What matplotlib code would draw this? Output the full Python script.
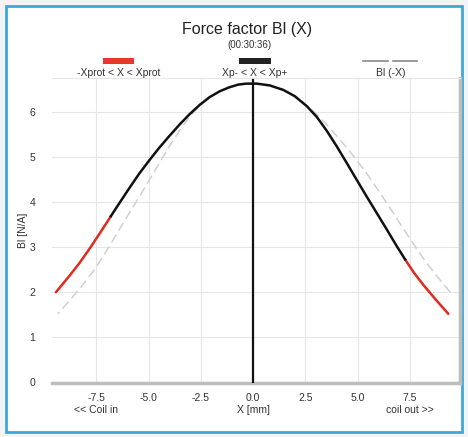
import numpy as np
import matplotlib
matplotlib.use('Agg')
import matplotlib.pyplot as plt
from matplotlib.patches import Rectangle
from matplotlib.lines import Line2D

plt.rcParams['font.family'] = ['Liberation Sans', 'DejaVu Sans']

# Bl(X), x in mm, Bl in N/A
x_mm = [-9.43, -8.79, -8.3, -7.83, -7.3, -6.80, -6.35, -5.92, -5.45, -4.96, -4.5, -4.0,
        -3.5, -3.04, -2.55, -2.08, -1.6, -1.13, -0.7, -0.33, 0.18, 0.8, 1.45, 2.0,
        2.57, 3.05, 3.53, 4.0, 4.48, 4.95, 5.44, 5.9, 6.4, 6.85, 7.27, 7.7, 8.15,
        8.75, 9.34]
bl = [1.99, 2.35, 2.64, 2.95, 3.32, 3.68, 4.00, 4.30, 4.62, 4.92, 5.19, 5.46,
      5.72, 5.94, 6.15, 6.32, 6.45, 6.54, 6.60, 6.62, 6.62, 6.58, 6.48, 6.34,
      6.12, 5.88, 5.57, 5.23, 4.86, 4.49, 4.11, 3.76, 3.38, 3.03, 2.72, 2.42, 2.15,
      1.82, 1.51]
i_xp_minus, i_xp_plus = 5, 34   # indices of Xp- and Xp+
xticks = [-7.5, -5.0, -2.5, 0.0, 2.5, 5.0, 7.5]
xticklabels = ['-7.5\n<< Coil in', '-5.0', '-2.5', '0.0\nX [mm]', '2.5', '5.0', '7.5\ncoil out >>']
yticks = [0, 1, 2, 3, 4, 5, 6]

x_mm = np.array(x_mm)
bl = np.array(bl)

fig = plt.figure(figsize=(4.68, 4.37), dpi=100)
fig.patch.set_facecolor('#f2f4f5')
fig.add_artist(Rectangle((0.012, 0.012), 0.976, 0.975, transform=fig.transFigure,
                         facecolor='white', edgecolor='#3ea8d8', lw=2, zorder=-1))

ax = fig.add_axes([0.111, 0.123, 0.872, 0.699])
ax.set_facecolor('white')

# mirrored curve Bl(-X)
ax.plot(-x_mm, bl, color='#d0d0d0', lw=1.1, ls=(0, (6, 3)), zorder=2)
# red outside Xp-/Xp+, black inside
ax.plot(x_mm[:i_xp_minus + 1], bl[:i_xp_minus + 1], color='#e02a1e', lw=1.8, zorder=3,
        solid_capstyle='round')
ax.plot(x_mm[i_xp_plus:], bl[i_xp_plus:], color='#e02a1e', lw=1.8, zorder=3,
        solid_capstyle='round')
ax.plot(x_mm[i_xp_minus:i_xp_plus + 1], bl[i_xp_minus:i_xp_plus + 1], color='#111111',
        lw=1.8, zorder=3)
# position marker at X=0
ax.plot([0, 0], [0, 6.7], color='#111111', lw=1.6, zorder=4)

ax.set_xlim(-9.62, 9.90)
ax.set_ylim(-0.03, 6.75)
ax.set_xticks(xticks)
ax.set_xticklabels(xticklabels, fontsize=7.5, color='#333333', linespacing=1.25)
ax.set_yticks(yticks)
ax.set_yticklabels([str(v) for v in yticks], fontsize=7.5, color='#333333')
ax.tick_params(axis='both', length=0)
ax.tick_params(axis='y', pad=12)
ax.tick_params(axis='x', pad=7)
ax.grid(True, color='#e6e6e6', lw=0.8)
ax.set_axisbelow(True)
ax.spines['left'].set_visible(False)
ax.spines['top'].set_color('#e6e6e6')
ax.spines['bottom'].set_color('#bdbdbd')
ax.spines['bottom'].set_linewidth(2.5)
ax.spines['right'].set_color('#bdbdbd')
ax.spines['right'].set_linewidth(2.5)
ax.set_ylabel('Bl [N/A]', fontsize=7.5, color='#333333', labelpad=1)

fig.text(0.528, 0.933, 'Force factor Bl (X)', ha='center', va='center', fontsize=11.5,
         color='#222222')
fig.text(0.534, 0.897, '(00:30:36)', ha='center', va='center', fontsize=7, color='#333333')

# legend row above the plot
fig.add_artist(Rectangle((103 / 468, 1 - 64 / 437), 31 / 468, 6 / 437,
                         transform=fig.transFigure, facecolor='#e8382c', edgecolor='none'))
fig.add_artist(Rectangle((239 / 468, 1 - 64 / 437), 32 / 468, 6 / 437,
                         transform=fig.transFigure, facecolor='#222222', edgecolor='none'))
fig.add_artist(Line2D([363 / 468, 388 / 468], [1 - 61 / 437] * 2, transform=fig.transFigure,
                      color='#8a8a8a', lw=1.2))
fig.add_artist(Line2D([393 / 468, 417 / 468], [1 - 61 / 437] * 2, transform=fig.transFigure,
                      color='#8a8a8a', lw=1.2))
for cx, label in [(119, '-Xprot < X < Xprot'), (255, 'Xp- < X < Xp+'), (391, 'Bl (-X)')]:
    fig.text(cx / 468, 1 - 73 / 437, label, ha='center', va='center', fontsize=7.5,
             color='#333333')

fig.savefig('out.png', dpi=100, facecolor=fig.get_facecolor())
